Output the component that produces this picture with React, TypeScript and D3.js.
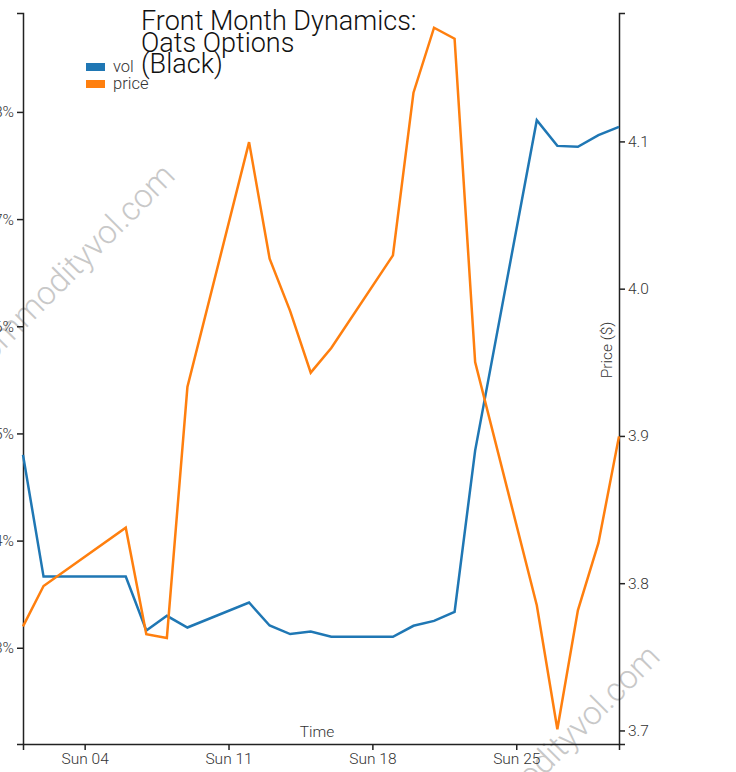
import React, { useEffect, useRef } from "react";
import * as d3 from "d3";

const dates: string[] = [
  "2015-01-01", "2015-01-02", "2015-01-06", "2015-01-07", "2015-01-08", "2015-01-09",
  "2015-01-12", "2015-01-13", "2015-01-14", "2015-01-15", "2015-01-16",
  "2015-01-19", "2015-01-20", "2015-01-21", "2015-01-22", "2015-01-23",
  "2015-01-26", "2015-01-27", "2015-01-28", "2015-01-29", "2015-01-30",
];
const volValues: number[] = [
  0.248, 0.23664, 0.23664, 0.23161, 0.23298, 0.23189,
  0.23422, 0.23208, 0.23128, 0.23152, 0.23102,
  0.23102, 0.23205, 0.23251, 0.23335, 0.2484,
  0.27923, 0.27683, 0.27674, 0.27783, 0.2786,
];
const priceValues: number[] = [
  3.7707, 3.7981, 3.8377, 3.7653, 3.7628, 3.9332,
  4.0995, 4.0204, 3.9848, 3.943, 3.9597,
  4.0226, 4.1331, 4.1772, 4.1697, 3.9502,
  3.785, 3.7008, 3.7816, 3.8273, 3.8997,
];
const titleLines: string[] = ["Front Month Dynamics:", "Oats Options", "(Black)"];
const seriesNames: string[] = ["vol", "price"];
const seriesColors: string[] = ["#1f77b4", "#ff7f0e"];
const watermark = "commodityvol.com";

const W = 736;
const H = 772;
const M = { left: 23, right: 117, top: 13, bottom: 28 };
const FONT = "Roboto, 'Noto Sans', sans-serif";

export default function App() {
  const leftRef = useRef<SVGGElement>(null);
  const rightRef = useRef<SVGGElement>(null);
  const bottomRef = useRef<SVGGElement>(null);

  const parse = d3.timeParse("%Y-%m-%d");
  const xs = dates.map((d) => parse(d) as Date);
  const x = d3.scaleTime().domain(d3.extent(xs) as [Date, Date]).range([M.left, W - M.right]);
  const yL = d3
    .scaleLinear()
    .domain([(d3.min(volValues) as number) - 0.01, (d3.max(volValues) as number) + 0.01])
    .range([H - M.bottom, M.top]);
  const yR = d3
    .scaleLinear()
    .domain([(d3.min(priceValues) as number) - 0.01, (d3.max(priceValues) as number) + 0.01])
    .range([H - M.bottom, M.top]);

  const volLine = d3
    .line<number>()
    .x((_, i) => x(xs[i]))
    .y((v) => yL(v));
  const priceLine = d3
    .line<number>()
    .x((_, i) => x(xs[i]))
    .y((v) => yR(v));

  useEffect(() => {
    const style = (g: d3.Selection<SVGGElement, unknown, null, undefined>) => {
      g.selectAll("text")
        .attr("font-family", FONT)
        .attr("font-size", 15.5)
        .attr("font-weight", 300)
        .attr("fill", "#333");
      g.selectAll("path,line").attr("stroke", "#222").attr("stroke-width", 1.5);
    };
    if (leftRef.current) {
      const g = d3.select(leftRef.current);
      g.selectAll("*").remove();
      g.call(d3.axisLeft(yL).ticks(6).tickFormat(d3.format(".0%") as any));
      style(g);
    }
    if (rightRef.current) {
      const g = d3.select(rightRef.current);
      g.selectAll("*").remove();
      g.call(d3.axisRight(yR).ticks(5).tickFormat(d3.format(".1f") as any));
      style(g);
    }
    if (bottomRef.current) {
      const g = d3.select(bottomRef.current);
      g.selectAll("*").remove();
      g.call(
        d3
          .axisBottom(x)
          .ticks(d3.timeWeek.every(1) as any)
          .tickFormat(d3.timeFormat("%a %d") as any)
      );
      style(g);
    }
  }, []);

  return (
    <svg
      width={W}
      height={H}
      style={{ position: "absolute", left: 0, top: 0, background: "#fff" }}
    >
      <g>
        <text
          transform={`translate(72,270) rotate(-45)`}
          textAnchor="middle"
          dominantBaseline="middle"
          fontFamily={FONT}
          fontWeight={300}
          fontSize={33}
          fill="#c8c8c8"
        >
          {watermark}
        </text>
        <text
          transform={`translate(557,751) rotate(-45)`}
          textAnchor="middle"
          dominantBaseline="middle"
          fontFamily={FONT}
          fontWeight={300}
          fontSize={33}
          fill="#c8c8c8"
        >
          {watermark}
        </text>
      </g>
      <g ref={leftRef} transform={`translate(${M.left},0)`} />
      <g ref={rightRef} transform={`translate(${W - M.right},0)`} />
      <g ref={bottomRef} transform={`translate(0,${H - M.bottom})`} />
      <path d={volLine(volValues) || ""} fill="none" stroke={seriesColors[0]} strokeWidth={2.5} />
      <path d={priceLine(priceValues) || ""} fill="none" stroke={seriesColors[1]} strokeWidth={2.5} />
      <text
        x={(M.left + W - M.right) / 2 - 4}
        y={H - M.bottom - 7}
        textAnchor="middle"
        fontFamily={FONT}
        fontWeight={300}
        fontSize={15.5}
        fill="#333"
      >
        Time
      </text>
      <text
        transform={`translate(${W - M.right - 7},${350}) rotate(-90)`}
        textAnchor="middle"
        fontFamily={FONT}
        fontWeight={300}
        fontSize={15.5}
        fill="#333"
      >
        Price ($)
      </text>
      <g>
        {titleLines.map((t, i) => (
          <text
            key={t}
            x={141}
            y={30 + i * 21.5}
            fontFamily={FONT}
            fontWeight={300}
            fontSize={27}
            fill="#111"
          >
            {t}
          </text>
        ))}
      </g>
      <g>
        {seriesNames.map((n, i) => (
          <g key={n} transform={`translate(86,${63 + i * 17})`}>
            <rect width={19} height={8} fill={seriesColors[i]} />
            <text x={27} y={9} fontFamily={FONT} fontWeight={300} fontSize={16.5} fill="#333">
              {n}
            </text>
          </g>
        ))}
      </g>
    </svg>
  );
}
